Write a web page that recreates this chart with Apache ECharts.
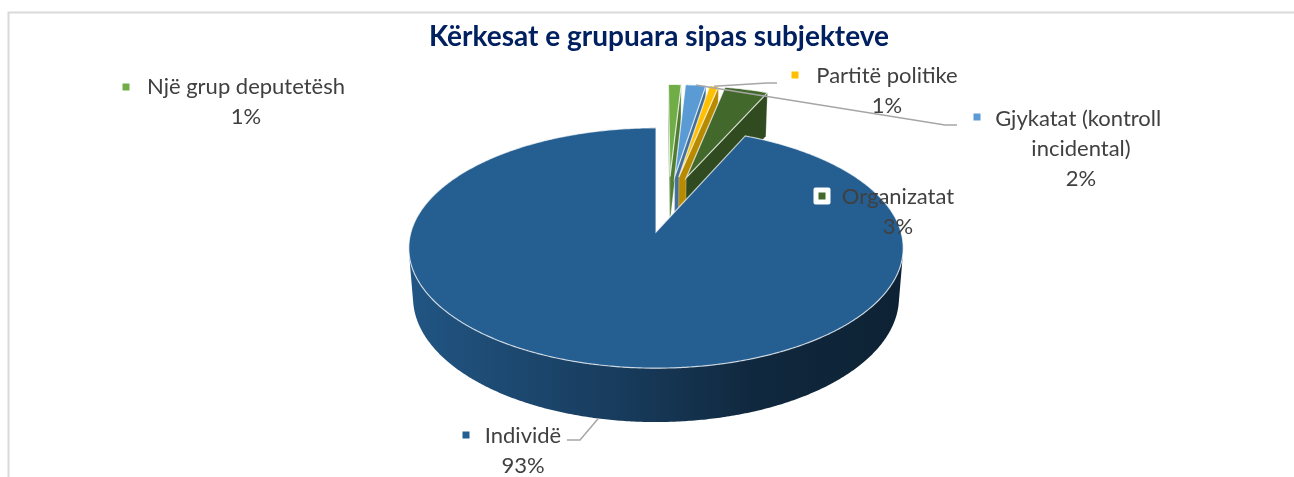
<!DOCTYPE html>
<html>
<head>
<meta charset="utf-8">
<script src="https://cdn.jsdelivr.net/npm/echarts@6/dist/echarts.min.js"></script>
<style>
  html, body { margin: 0; padding: 0; background: #fff; }
  #chart { width: 1294px; height: 477px; }
</style>
</head>
<body>
<div id="chart"></div>
<script>
// data
const categories = ['Një grup deputetësh', 'Gjykatat (kontroll incidental)', 'Partitë politike', 'Organizatat', 'Individë'];
const values = [1.0, 1.6, 0.7, 3.4, 93.3];
const colors = ['#70AD47', '#5B9BD5', '#FFC000', '#43682B', '#255E91'];
const chartTitle = 'Kërkesat e grupuara sipas subjekteve';

// label layout (Excel labels were dragged by hand)
const labelPos = [[246, 87], [1081, 119], [887, 76], [898, 197], [523, 436]];
const keyPos = [[126, 87], [977, 117], [795, 75], [822, 196], [466, 435]];
const labelWidth = [0, 190, 0, 0, 0];
const leaderBends = [null, [[945, 125], [957, 125]], [[767, 83], [777, 83]], null, [[580, 440], [567, 440]]];

// 3d view
const R = 245, H = 57, D = 1612, EXPLODE = 62;
const PHI = 28.8 * Math.PI / 180;
const CX = 656, CY = 232;
const sinP = Math.sin(PHI), cosP = Math.cos(PHI);
const cam = [0, D * sinP, -D * cosP];

function project(x, y, z) {
    const yp = y * cosP + z * sinP;
    const zd = z * cosP - y * sinP;
    const s = D / (D + zd);
    return [CX + x * s, CY - yp * s];
}

function shade(hex, f) {
    const n = parseInt(hex.slice(1), 16);
    const r = Math.round(((n >> 16) & 255) * f);
    const g = Math.round(((n >> 8) & 255) * f);
    const b = Math.round((n & 255) * f);
    return 'rgb(' + r + ',' + g + ',' + b + ')';
}

const total = values.reduce((a, b) => a + b, 0);
let acc = 0;
const slices = values.map(v => {
    const a0 = acc / total * 2 * Math.PI;
    acc += v;
    const a1 = acc / total * 2 * Math.PI;
    return { a0: a0, a1: a1, mid: (a0 + a1) / 2 };
});
// every slice pushed out the same distance, view centred on the big one
const big = slices[values.indexOf(Math.max.apply(null, values))];
slices.forEach(s => {
    s.cx = EXPLODE * (Math.sin(s.mid) - Math.sin(big.mid));
    s.cz = EXPLODE * (Math.cos(s.mid) - Math.cos(big.mid));
});

function renderItem(params, api) {
    const i = params.dataIndex;
    const s = slices[i];
    const col = colors[i];
    const base = i * 10;
    const children = [];

    const steps = Math.max(2, Math.ceil((s.a1 - s.a0) / (Math.PI / 360)));
    const ts = [];
    for (let k = 0; k <= steps; k++) ts.push(s.a0 + (s.a1 - s.a0) * k / steps);

    // radial cut faces
    const cutFace = (a, nx, nz) => {
        const dot = (cam[0] - s.cx) * nx + (cam[2] - s.cz) * nz;
        if (dot <= 1e-6) return;
        const ex = s.cx + R * Math.sin(a), ez = s.cz + R * Math.cos(a);
        children.push({
            type: 'polygon', z2: base + 1,
            shape: { points: [project(s.cx, 0, s.cz), project(ex, 0, ez), project(ex, -H, ez), project(s.cx, -H, s.cz)] },
            style: { fill: shade(col, 0.72), stroke: 'rgba(255,255,255,0.35)', lineWidth: 0.8 }
        });
    };
    cutFace(s.a0, -Math.cos(s.a0), Math.sin(s.a0));
    cutFace(s.a1, Math.cos(s.a1), -Math.sin(s.a1));

    // outer wall, only the part turned to the camera
    const wallFill = new echarts.graphic.LinearGradient(CX - R, 0, CX + R, 0, [
        { offset: 0, color: shade(col, 0.9) },
        { offset: 0.45, color: shade(col, 0.62) },
        { offset: 0.7, color: shade(col, 0.43) },
        { offset: 1, color: shade(col, 0.36) }
    ], true);
    let run = [];
    const flush = () => {
        if (run.length > 1) {
            const top = run.map(t => project(s.cx + R * Math.sin(t), 0, s.cz + R * Math.cos(t)));
            const bot = run.map(t => project(s.cx + R * Math.sin(t), -H, s.cz + R * Math.cos(t))).reverse();
            children.push({
                type: 'polygon', z2: base + 2,
                shape: { points: top.concat(bot) },
                style: { fill: wallFill }
            });
        }
        run = [];
    };
    ts.forEach(t => {
        const px = s.cx + R * Math.sin(t), pz = s.cz + R * Math.cos(t);
        const dot = (cam[0] - px) * Math.sin(t) + (cam[2] - pz) * Math.cos(t);
        if (dot > 0) run.push(t); else flush();
    });
    flush();

    // top face
    const topPts = [project(s.cx, 0, s.cz)].concat(ts.map(t => project(s.cx + R * Math.sin(t), 0, s.cz + R * Math.cos(t))));
    children.push({
        type: 'polygon', z2: base + 3,
        shape: { points: topPts },
        style: { fill: col, stroke: 'rgba(255,255,255,0.7)', lineWidth: 1.2 }
    });

    // label
    const pct = Math.round(api.value(0) / total * 100) + '%';
    const lp = labelPos[i], kp = keyPos[i];
    if (leaderBends[i]) {
        const front = Math.cos(s.mid) < 0;
        const anchor = project(s.cx + R * Math.sin(s.mid), front ? -H : 0, s.cz + R * Math.cos(s.mid));
        children.push({
            type: 'polyline', z2: 580,
            shape: { points: [anchor].concat(leaderBends[i]) },
            style: { stroke: '#a6a6a6', lineWidth: 1.5, fill: null }
        });
    }
    children.push({
        type: 'rect', z2: 590,
        shape: { x: kp[0] - 8.5, y: kp[1] - 8.5, width: 17, height: 17, r: 2 },
        style: { fill: '#fff' }
    });
    children.push({
        type: 'rect', z2: 591,
        shape: { x: kp[0] - 3.5, y: kp[1] - 3.5, width: 7, height: 7 },
        style: { fill: col }
    });
    const textStyle = {
        text: categories[i] + '\n' + pct,
        x: lp[0], y: lp[1] - 15,
        align: 'center', verticalAlign: 'top',
        textAlign: 'center', textVerticalAlign: 'top',
        lineHeight: 30,
        font: '22px Lato',
        fill: '#404040'
    };
    if (labelWidth[i]) {
        textStyle.width = labelWidth[i];
        textStyle.overflow = 'break';
    }
    children.push({ type: 'text', z2: 600, style: textStyle });

    return { type: 'group', children: children };
}

const chart = echarts.init(document.getElementById('chart'));
chart.setOption({
    animation: false,
    backgroundColor: '#fff',
    graphic: [
        {
            type: 'polyline',
            shape: { points: [[8.5, 477], [8.5, 12.5], [1294, 12.5]] },
            style: { stroke: '#d9d9d9', lineWidth: 2, fill: null }
        },
        {
            type: 'text',
            x: 659, y: 37,
            style: {
                text: chartTitle,
                align: 'center', verticalAlign: 'middle',
                textAlign: 'center', textVerticalAlign: 'middle',
                font: 'bold 28px Lato',
                fill: '#002060'
            }
        }
    ],
    series: [{
        type: 'custom',
        coordinateSystem: 'none',
        silent: true,
        renderItem: renderItem,
        data: values
    }]
});
</script>
</body>
</html>
